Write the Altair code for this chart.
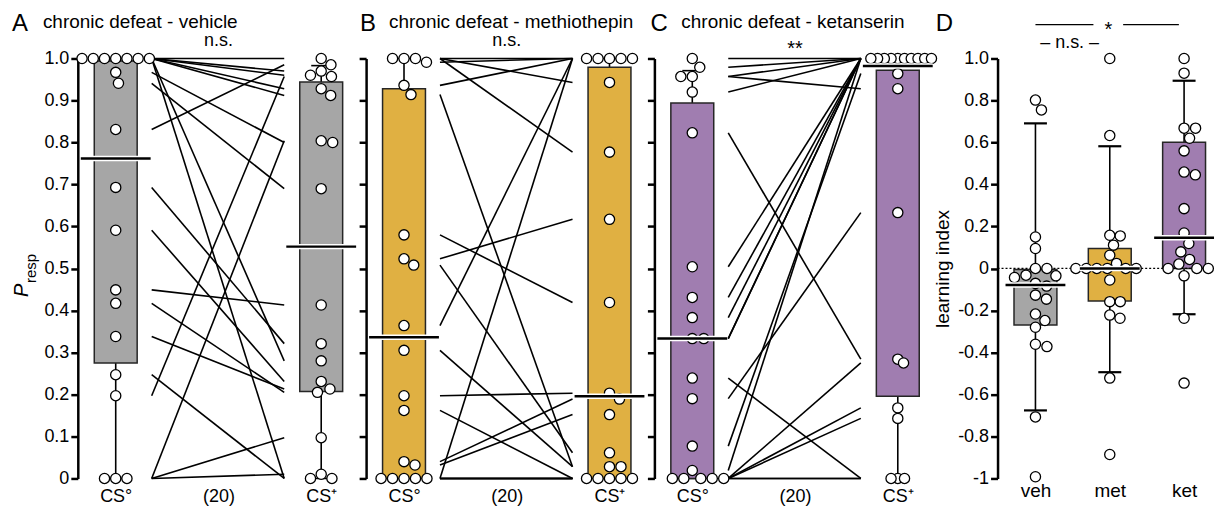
import altair as alt
import numpy as np
import pandas as pd

FONT = "Liberation Sans"

# ---------------- data ----------------
# P_resp per animal (same animal order in CS° and CS+ lists)
veh_cs0 = [1, 1, 1, 1, 1, 1, 1, 0.967, 0.941, 0.831, 0.693, 0.591, 0.449, 0.417, 0.338, 0.247, 0.197, 0, 0, 0]
veh_csp = [1, 0.97, 0.912, 0.96, 0.928, 0.28, 0, 0.80, 0.69, 0.985, 0.321, 0.231, 0.413, 0.205, 0.213, 0, 0.957, 0.804, 0.097, 0.01]

met_cs0 = [1, 1, 1, 0.991, 0.936, 0.914, 0.580, 0.523, 0.508, 0.364, 0.305, 0.197, 0.162, 0.040, 0.032, 0, 0, 0, 0, 0]
met_csp = [1, 0.943, 0.777, 1, 1, 0.028, 0.419, 0.617, 0.061, 1, 0.028, 0.203, 0, 0.189, 0.152, 1, 0, 0, 0, 0]

ket_cs0 = [1, 0.979, 0.957, 0.957, 0.92, 0.823, 0.504, 0.431, 0.383, 0.333, 0.333, 0.239, 0.19, 0.077, 0.019, 0, 0, 0, 0, 0]
ket_csp = [1, 1, 1, 0.928, 1, 0.284, 1, 1, 1, 1, 1, 0, 0.633, 0.964, 1, 0.275, 0.168, 0.143, 0, 0]

# summary per condition: [q1, q3, median, whisker low, whisker high]
veh_stats_cs0 = [0.275, 0.994, 0.762, 0.0, 1.0]
veh_stats_csp = [0.207, 0.944, 0.552, 0.0, 0.983]
met_stats_cs0 = [0.0, 0.928, 0.336, 0.0, 1.0]
met_stats_csp = [0.0, 0.979, 0.196, 0.0, 1.0]
ket_stats_cs0 = [0.0, 0.894, 0.333, 0.0, 0.971]
ket_stats_csp = [0.196, 0.972, 0.982, 0.0, 1.0]

# learning index per animal
li_veh = [0.802, 0.755, 0.15, 0.095, 0.0, -0.043, -0.032, 0.0, -0.035, -0.084, -0.071, -0.127, -0.146,
          -0.217, -0.248, -0.28, -0.372, -0.361, -0.707, -0.992]
li_met = [1.0, 0.633, 0.158, 0.155, 0.111, 0.063, 0.024, 0, 0, 0, 0, 0, 0, -0.055, -0.158, -0.158,
          -0.237, -0.222, -0.522, -0.886]
li_ket = [1.0, 0.93, 0.668, 0.668, 0.62, 0.56, 0.459, 0.446, 0.285, 0.169, 0.119, 0.079, 0.043, 0.021,
          0, 0, 0, -0.035, -0.237, -0.546]
li_stats_veh = [-0.269, -0.005, -0.079, -0.676, 0.691]
li_stats_met = [-0.155, 0.095, 0.0, -0.494, 0.582]
li_stats_ket = [0.0, 0.601, 0.146, -0.218, 0.894]

groups = ["veh", "met", "ket"]
titles = ["chronic defeat - vehicle", "chronic defeat - methiothepin", "chronic defeat - ketanserin"]
colors = ["#A6A6A6", "#E0B042", "#A07DB0"]

# ---------------- layout constants ----------------
H = 421
W = 280
PX_IDX = 206.0            # pixels per condition unit in A-C
XDOM = [-38 / PX_IDX, (W - 38) / PX_IDX]
LINE_L, LINE_R = 0.175, 0.82
BAR_HALF = 21.5 / PX_IDX
CAP_HALF = 10 / PX_IDX
MED_HALF = 35 / PX_IDX

WD = 214
PX_D = 74.5
XDOM_D = [-38 / PX_D, (WD - 38) / PX_D]
BAR_HALF_D = 21.5 / PX_D
CAP_HALF_D = 11.5 / PX_D
MED_HALF_D = 30 / PX_D

DOT = dict(fill="white", stroke="black", strokeWidth=1.3, size=105, opacity=1)


def _swarm(vals, px_per_unit, diam, step=0.25):
    order = sorted(range(len(vals)), key=lambda i: -vals[i])
    placed, out = [], [0.0] * len(vals)
    for i in order:
        y = vals[i] * px_per_unit
        k = 0
        while True:
            found = None
            for c in ([0.0] if k == 0 else [k * step, -k * step]):
                if all((c - px) ** 2 + (y - py) ** 2 >= diam ** 2 - 1e-9 for py, px in placed):
                    found = c
                    break
            if found is not None:
                break
            k += 1
        out[i] = found
        placed.append((y, found))
    return out


def swarm_offsets(values, px_per_unit, diam=11.5, max_half=34.0):
    vals = [float(v) for v in values]
    d = diam
    while True:
        out = _swarm(vals, px_per_unit, d)
        if max(abs(o) for o in out) <= max_half or d <= 5:
            return out
        d -= 0.25


def txt(t, dx, dy, size, style="normal", align="left"):
    return alt.Chart(pd.DataFrame({"t": [t]})).mark_text(
        font=FONT, fontSize=size, fontStyle=style, align=align, baseline="alphabetic", color="black"
    ).encode(x=alt.value(dx), y=alt.value(dy), text="t:N")


def txt_angle(t, dx, dy, size, style="normal"):
    return alt.Chart(pd.DataFrame({"t": [t]})).mark_text(
        font=FONT, fontSize=size, fontStyle=style, align="left", baseline="alphabetic", color="black", angle=270
    ).encode(x=alt.value(dx), y=alt.value(dy), text="t:N")


def cond_panel(cs0, csp, st0, stp, color, letter, title, letter_dx, title_dx, ann, ann_size, ann_y, first):
    n = len(cs0)
    xs = alt.Scale(domain=XDOM, nice=False, zero=False)
    ys = alt.Scale(domain=[0, 1], nice=False, zero=False)
    xaxis = alt.Axis(values=[0, 0.5, 1],
                     labelExpr=f"datum.value == 0 ? 'CS°' : datum.value == 1 ? 'CS\u207a' : '({n})'",
                     domain=False, ticks=False, grid=False, title=None, labelFontSize=18, labelFont=FONT,
                     labelColor="black", labelPadding=9, labelFlush=False, labelOverlap=False)
    yaxis = alt.Axis(values=[round(i * 0.1, 1) for i in range(11)], labels=first,
                     labelExpr="datum.value == 0 ? '0' : format(datum.value, '.1f')",
                     grid=False, title=None, labelFontSize=18, labelFont=FONT, labelColor="black",
                     labelPadding=2, tickSize=7, tickWidth=2.5, tickColor="black", domainWidth=2.5,
                     domainColor="black", labelFlush=False, labelOverlap=False)

    def X(f):
        return alt.X(f, type="quantitative", scale=xs, axis=xaxis)

    def Y(f):
        return alt.Y(f, type="quantitative", scale=ys, axis=yaxis)

    pts_rows = []
    for pos, vals in ((0, cs0), (1, csp)):
        for v, o in zip(vals, swarm_offsets(vals, H)):
            pts_rows.append({"x": pos + o / PX_IDX, "y": v})
    pts = pd.DataFrame(pts_rows)

    line_rows = []
    for i, (a, b) in enumerate(zip(cs0, csp)):
        line_rows.append({"s": i, "x": LINE_L, "y": a})
        line_rows.append({"s": i, "x": LINE_R, "y": b})
    lines = pd.DataFrame(line_rows)

    st = pd.DataFrame([dict(pos=p, q1=s[0], q3=s[1], med=s[2], lo=s[3], hi=s[4]) for p, s in ((0, st0), (1, stp))])
    st["bl"], st["br"] = st.pos - BAR_HALF, st.pos + BAR_HALF
    st["cl"], st["cr"] = st.pos - CAP_HALF, st.pos + CAP_HALF
    st["ml"], st["mr"] = st.pos - MED_HALF, st.pos + MED_HALF
    b = alt.Chart(st)

    whisk = b.mark_rule(color="black", strokeWidth=1.6).encode(x=X("pos"), y=Y("lo"), y2="hi")
    cap_hi = b.mark_rule(color="black", strokeWidth=1.6).encode(x=X("cl"), x2="cr", y=Y("hi"))
    cap_lo = b.mark_rule(color="black", strokeWidth=1.6).encode(x=X("cl"), x2="cr", y=Y("lo"))
    bars = b.mark_rect(fill=color, stroke="#262626", strokeWidth=1.5).encode(x=X("bl"), x2="br", y=Y("q1"), y2="q3")
    lns = alt.Chart(lines).mark_line(color="black", strokeWidth=1.6).encode(x=X("x"), y=Y("y"), detail="s:N")
    dots = alt.Chart(pts).mark_circle(**DOT).encode(x=X("x"), y=Y("y"))
    med_w = b.mark_rule(color="white", strokeWidth=5.5).encode(x=X("ml"), x2="mr", y=Y("med"))
    med_b = b.mark_rule(color="black", strokeWidth=2.5).encode(x=X("ml"), x2="mr", y=Y("med"))
    annot = alt.Chart(pd.DataFrame({"x": [0.5], "y": [ann_y], "t": [ann]})).mark_text(
        font=FONT, fontSize=ann_size, align="center", baseline="alphabetic", color="black"
    ).encode(x=X("x"), y=Y("y"), text="t:N")

    layers = [whisk, cap_hi, cap_lo, bars, lns, dots, med_w, med_b, annot,
              txt(letter, letter_dx, -28, 24), txt(title, title_dx, -31, 19)]
    if first:
        layers += [txt_angle("P", -50, 239, 20, "italic"), txt_angle("resp", -42, 225, 15)]
    return alt.layer(*layers).properties(width=W, height=H)


def li_panel():
    xs = alt.Scale(domain=XDOM_D, nice=False, zero=False)
    ys = alt.Scale(domain=[-1, 1], nice=False, zero=False)
    xaxis = alt.Axis(values=[0, 1, 2],
                     labelExpr="datum.value == 0 ? 'veh' : datum.value == 1 ? 'met' : 'ket'",
                     domain=False, ticks=False, grid=False, title=None, labelFontSize=19, labelFont=FONT,
                     labelColor="black", labelPadding=3, labelFlush=False, labelOverlap=False)
    yaxis = alt.Axis(values=[round(-1 + i * 0.2, 1) for i in range(11)],
                     labelExpr="datum.value == 0 ? '0' : datum.value == -1 ? '-1' : "
                               "(datum.value < 0 ? '-' : '') + format(abs(datum.value), '.1f')",
                     grid=False, title="learning index", titleFont=FONT, titleFontSize=19,
                     titleFontWeight="normal", titleColor="black", titlePadding=5,
                     labelFontSize=18, labelFont=FONT, labelColor="black",
                     labelPadding=2, tickSize=7, tickWidth=2.5, tickColor="black", domainWidth=2.5,
                     domainColor="black", labelFlush=False, labelOverlap=False)

    def X(f):
        return alt.X(f, type="quantitative", scale=xs, axis=xaxis)

    def Y(f):
        return alt.Y(f, type="quantitative", scale=ys, axis=yaxis)

    pts_rows = []
    for pos, vals in enumerate((li_veh, li_met, li_ket)):
        for v, o in zip(vals, swarm_offsets(vals, H / 2)):
            pts_rows.append({"x": pos + o / PX_D, "y": v})
    pts = pd.DataFrame(pts_rows)

    st = pd.DataFrame([dict(pos=p, g=g, c=c, q1=s[0], q3=s[1], med=s[2], lo=s[3], hi=s[4])
                       for p, (g, c, s) in enumerate(zip(groups, colors, (li_stats_veh, li_stats_met, li_stats_ket)))])
    st["bl"], st["br"] = st.pos - BAR_HALF_D, st.pos + BAR_HALF_D
    st["cl"], st["cr"] = st.pos - CAP_HALF_D, st.pos + CAP_HALF_D
    st["ml"], st["mr"] = st.pos - MED_HALF_D, st.pos + MED_HALF_D
    b = alt.Chart(st)
    color = alt.Color("g:N", scale=alt.Scale(domain=groups, range=colors), legend=None)

    whisk = b.mark_rule(color="black", strokeWidth=1.6).encode(x=X("pos"), y=Y("lo"), y2="hi")
    cap_hi = b.mark_rule(color="black", strokeWidth=2.2).encode(x=X("cl"), x2="cr", y=Y("hi"))
    cap_lo = b.mark_rule(color="black", strokeWidth=2.2).encode(x=X("cl"), x2="cr", y=Y("lo"))
    bars = b.mark_rect(stroke="#262626", strokeWidth=1.5).encode(x=X("bl"), x2="br", y=Y("q1"), y2="q3", fill=color)
    zero = alt.Chart(pd.DataFrame({"x": [XDOM_D[0]], "x2": [XDOM_D[1]], "y": [0.0]})).mark_rule(
        color="black", strokeWidth=1.2, strokeDash=[2, 2]).encode(x=X("x"), x2="x2", y=Y("y"))
    dots = alt.Chart(pts).mark_circle(**DOT).encode(x=X("x"), y=Y("y"))
    med_w = b.mark_rule(color="white", strokeWidth=5.5).encode(x=X("ml"), x2="mr", y=Y("med"))
    med_b = b.mark_rule(color="black", strokeWidth=2.5).encode(x=X("ml"), x2="mr", y=Y("med"))

    sig = alt.Chart(pd.DataFrame({"x": [0.0, 1.18], "x2": [0.78, 1.93], "y": [1.1615, 1.1615]})).mark_rule(
        color="black", strokeWidth=1.3).encode(x=X("x"), x2="x2", y=Y("y"))
    sig_t = alt.Chart(pd.DataFrame({"x": [0.98, 0.46], "y": [1.109, 1.052], "t": ["*", "\u2013 n.s. \u2013"],
                                    "s": [20, 18]})).mark_text(
        font=FONT, align="center", baseline="alphabetic", color="black"
    ).encode(x=X("x"), y=Y("y"), text="t:N", size=alt.Size("s:Q", scale=None, legend=None))

    layers = [whisk, cap_hi, cap_lo, bars, zero, dots, med_w, med_b, sig, sig_t, txt("D", -62, -28, 24)]
    return alt.layer(*layers).properties(width=WD, height=H)


pA = cond_panel(veh_cs0, veh_csp, veh_stats_cs0, veh_stats_csp, colors[0], "A", titles[0], -66, -35,
                "n.s.", 18, 1.029, True)
pB = cond_panel(met_cs0, met_csp, met_stats_cs0, met_stats_csp, colors[1], "B", titles[1], -6, 23,
                "n.s.", 18, 1.029, False)
pC = cond_panel(ket_cs0, ket_csp, ket_stats_cs0, ket_stats_csp, colors[2], "C", titles[2], -4, 27,
                "**", 20, 1.008, False)
pD = li_panel()

# empty spacer between panel C and D (room for D's axis labels and title)
spacer = alt.Chart(pd.DataFrame({"v": [0]})).mark_point(opacity=0).encode(
    x=alt.value(0), y=alt.value(0)).properties(width=46, height=H)

chart = alt.hconcat(pA, pB, pC, spacer, pD, spacing=9, bounds="flush").properties(
    padding={"left": 12, "top": 11, "right": 2, "bottom": 2}
).configure_view(stroke=None)

chart.save("out.html", embed_options={"renderer": "svg", "actions": False})
